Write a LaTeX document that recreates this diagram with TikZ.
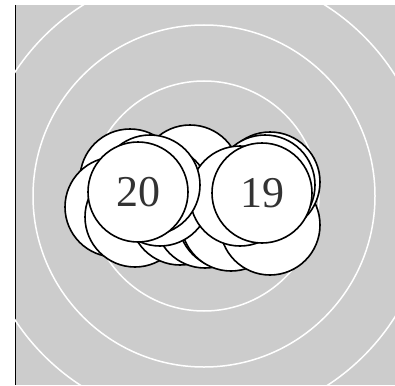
\documentclass[tikz,border=0pt]{standalone}
\usepackage{fontspec}
\setmainfont{Liberation Serif}
\definecolor{bggray}{HTML}{CCCCCC}
\definecolor{labelgray}{HTML}{333333}
\begin{document}
\begin{tikzpicture}[x=1pt,y=-1pt,
  ring/.style={draw=white,line width=1.5pt},
  disc/.style={circle,draw=black,fill=white,line width=1.6pt,minimum size=100pt,inner sep=0pt,
    font=\fontsize{44}{44}\selectfont,text=labelgray}]
\useasboundingbox (0,0) rectangle (395,385);
\fill[bggray] (15,5) rectangle (395,385);
\draw[black,line width=1pt] (15,5) -- (15,385);
\begin{scope}
\clip (15,5) rectangle (395,385);
\coordinate (c) at (204,196);
\draw[ring] (c) circle[radius=115];
\draw[ring] (c) circle[radius=171];
\draw[ring] (c) circle[radius=226];
\end{scope}
\node[disc] (n1) at (190,175) {};
\node[disc] (n2) at (130,179) {};
\node[disc] (n3) at (115,207) {};
\node[disc] (n4) at (135,217) {};
\node[disc] (n5) at (180,215) {};
\node[disc] (n13) at (205,218) {};
\node[disc] (n6) at (228,219) {};
\node[disc] (n7) at (231,221) {};
\node[disc] (n8) at (270,225) {};
\node[disc] (n9) at (270,182) {};
\node[disc] (n10) at (265,185) {};
\node[disc] (n11) at (160,196) {};
\node[disc] (n12) at (240,196) {};
\node[disc] (n14) at (150,185) {};
\node[disc] (n20) at (138,192) {20};
\node[disc] (n19) at (262,193) {19};
\end{tikzpicture}
\end{document}
